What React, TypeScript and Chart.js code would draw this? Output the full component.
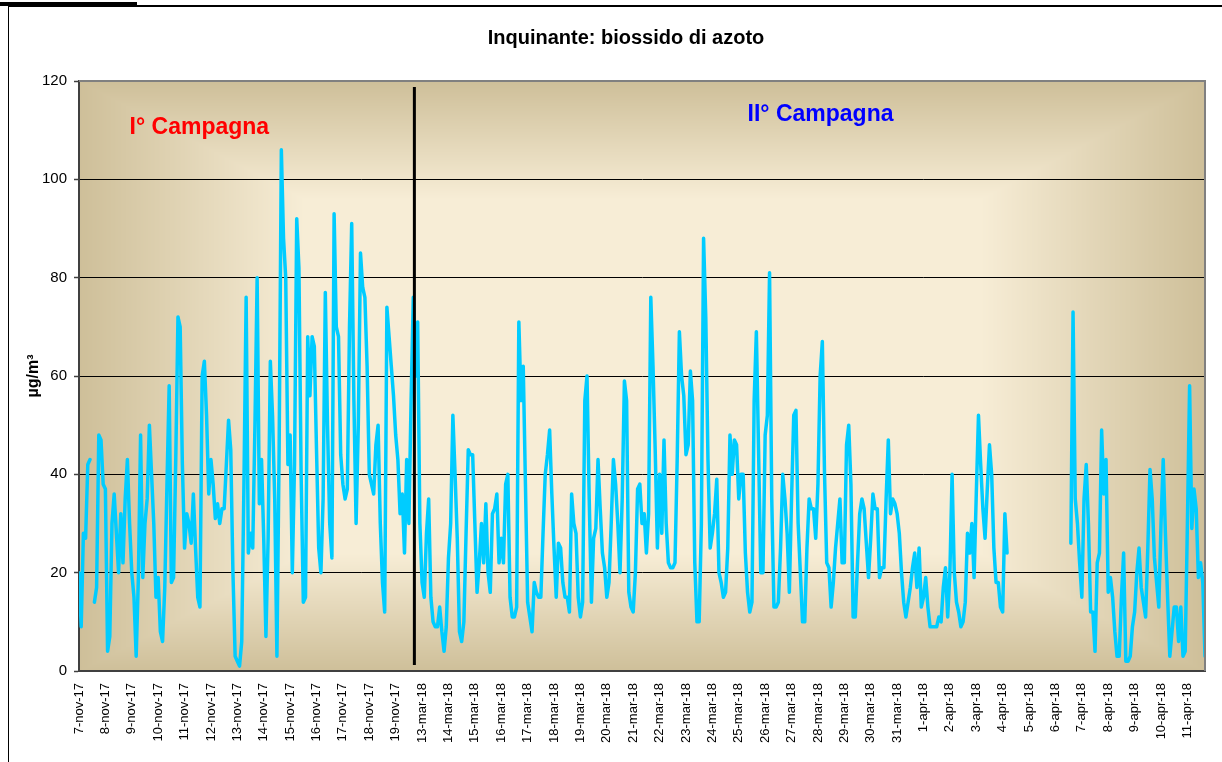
import React, { useEffect, useRef } from "react";
import { Chart, registerables } from "chart.js";

Chart.register(...registerables);

const chartTitle = "Inquinante: biossido di azoto";
const yAxisTitle = "µg/m³";
const campaignLabels = ["I° Campagna", "II° Campagna"];

const dayLabels = [
  "7-nov-17", "8-nov-17", "9-nov-17", "10-nov-17", "11-nov-17", "12-nov-17", "13-nov-17",
  "14-nov-17", "15-nov-17", "16-nov-17", "17-nov-17", "18-nov-17", "19-nov-17",
  "13-mar-18", "14-mar-18", "15-mar-18", "16-mar-18", "17-mar-18", "18-mar-18", "19-mar-18",
  "20-mar-18", "21-mar-18", "22-mar-18", "23-mar-18", "24-mar-18", "25-mar-18", "26-mar-18",
  "27-mar-18", "28-mar-18", "29-mar-18", "30-mar-18", "31-mar-18",
  "1-apr-18", "2-apr-18", "3-apr-18", "4-apr-18", "5-apr-18", "6-apr-18", "7-apr-18",
  "8-apr-18", "9-apr-18", "10-apr-18", "11-apr-18",
];

const yTicks = [0, 20, 40, 60, 80, 100, 120];
const hoursPerStep = 2;
const hoursPerLabel = 24;

// I° Campagna: NO2 (µg/m³), one value every 2 hours
const campaign1: (number | null)[] = [
  20, 9, 28, 27, 42, 43, null, 14, 17, 48, 47, 38,
  37, 4, 7, 30, 36, 28, 20, 32, 22, 35, 43, 30,
  20, 15, 3, 19, 48, 19, 30, 35, 50, 40, 30, 15,
  19, 8, 6, 17, 38, 58, 18, 19, 43, 72, 70, 42,
  25, 32, 30, 26, 36, 25, 15, 13, 60, 63, 52, 36,
  43, 38, 31, 34, 30, 33, 33, 42, 51, 45, 20, 3,
  2, 1, 6, 38, 76, 24, 28, 25, 50, 80, 34, 43,
  27, 7, 27, 63, 52, 35, 3, 45, 106, 88, 80, 42,
  48, 20, 42, 92, 82, 40, 14, 15, 68, 56, 68, 66,
  45, 25, 20, 35, 77, 50, 30, 23, 93, 70, 68, 44,
  38, 35, 37, 70, 91, 55, 30, 50, 85, 78, 76, 62,
  40, 38, 36, 46, 50, 30, 18, 12, 74, 68, 62, 56,
  48, 43, 32, 36, 24, 43, 30, 55, 76,
];

// II° Campagna: NO2 (µg/m³), one value every 2 hours
const campaign2: (number | null)[] = [
  60, 71, 30, 18, 15, 28, 35, 15, 10, 9, 9, 13,
  8, 4, 9, 23, 30, 52, 40, 27, 8, 6, 10, 28,
  45, 44, 44, 30, 16, 22, 30, 22, 34, 20, 16, 32,
  33, 36, 22, 27, 22, 38, 40, 15, 11, 11, 13, 71,
  55, 62, 38, 14, 11, 8, 18, 16, 15, 15, 28, 40,
  44, 49, 36, 25, 15, 26, 25, 18, 15, 15, 12, 36,
  30, 28, 15, 11, 14, 55, 60, 35, 14, 27, 29, 43,
  33, 24, 21, 15, 18, 30, 43, 38, 30, 20, 35, 59,
  55, 16, 13, 12, 20, 37, 38, 30, 32, 24, 32, 76,
  62, 45, 25, 40, 28, 47, 30, 22, 21, 21, 22, 43,
  69, 60, 56, 44, 46, 61, 55, 22, 10, 10, 30, 88,
  72, 43, 25, 28, 32, 39, 20, 18, 15, 16, 25, 48,
  40, 47, 46, 35, 40, 40, 24, 16, 12, 14, 55, 69,
  45, 20, 20, 48, 52, 81, 35, 13, 13, 14, 25, 40,
  35, 28, 16, 35, 52, 53, 30, 20, 10, 10, 25, 35,
  33, 33, 27, 38, 60, 67, 40, 22, 21, 13, 18, 25,
  30, 35, 22, 22, 46, 50, 38, 11, 11, 22, 32, 35,
  33, 26, 19, 27, 36, 33, 33, 19, 21, 21, 35, 47,
  32, 35, 34, 32, 28, 20, 14, 11, 14, 17, 21, 24,
  17, 25, 13, 15, 19, 13, 9, 9, 9, 9, 11, 10,
  17, 21, 11, 20, 40, 20, 14, 12, 9, 10, 14, 28,
  24, 30, 19, 36, 52, 42, 33, 27, 37, 46, 40, 25,
  18, 18, 13, 12, 32, 24, null, null, null, null, null, null,
  null, null, null, null, null, null, null, null, null, null, null, null,
  null, null, null, null, null, null, null, null, null, null, 26, 73,
  35, 30, 22, 15, 35, 42, 30, 12, 12, 4, 22, 24,
  49, 36, 43, 16, 19, 15, 8, 3, 3, 15, 24, 2,
  2, 3, 9, 12, 20, 25, 17, 14, 11, 25, 41, 35,
  23, 18, 13, 30, 43, 28, 15, 3, 8, 13, 13, 6,
  13, 3, 4, 30, 58, 29, 37, 33, 19, 22, 18, 3,
];

const FONT = "'Liberation Sans', Arial, Helvetica, sans-serif";

let bgCache: HTMLCanvasElement | null = null;

const backgroundPlugin = {
  id: "rectGradientBg",
  beforeDraw(chart: any) {
    const { ctx, chartArea: a } = chart;
    const w = Math.round(a.right - a.left);
    const h = Math.round(a.bottom - a.top);
    if (!bgCache || bgCache.width !== w || bgCache.height !== h) {
      const off = document.createElement("canvas");
      off.width = w;
      off.height = h;
      const octx = off.getContext("2d")!;
      const img = octx.createImageData(w, h);
      const light = [247, 237, 214];
      const dark = [206, 191, 153];
      for (let y = 0; y < h; y++) {
        const dy = Math.abs(y - h / 2) / (h / 2);
        for (let x = 0; x < w; x++) {
          const dx = Math.abs(x - w / 2) / (w / 2);
          const t = Math.max(dx, dy);
          let f = (t - 0.6) / 0.4;
          f = f < 0 ? 0 : f > 1 ? 1 : f;
          const i = (y * w + x) * 4;
          img.data[i] = light[0] + (dark[0] - light[0]) * f;
          img.data[i + 1] = light[1] + (dark[1] - light[1]) * f;
          img.data[i + 2] = light[2] + (dark[2] - light[2]) * f;
          img.data[i + 3] = 255;
        }
      }
      octx.putImageData(img, 0, 0);
      bgCache = off;
    }
    ctx.drawImage(bgCache, a.left, a.top);
  },
};

const overlayPlugin = {
  id: "campaignOverlay",
  afterDatasetsDraw(chart: any) {
    const { ctx, chartArea: a, scales } = chart;
    const xs = scales.x;
    const ys = scales.y;
    ctx.save();
    // plot frame top/right
    ctx.strokeStyle = "#808080";
    ctx.lineWidth = 2;
    ctx.beginPath();
    ctx.moveTo(a.left, a.top);
    ctx.lineTo(a.right, a.top);
    ctx.lineTo(a.right, a.bottom);
    ctx.stroke();
    // campaign separator
    const sepHour = campaign1.length * hoursPerStep - 1;
    const sx = xs.getPixelForValue(sepHour);
    ctx.strokeStyle = "#000000";
    ctx.lineWidth = 3;
    ctx.beginPath();
    ctx.moveTo(sx, ys.getPixelForValue(118.8));
    ctx.lineTo(sx, ys.getPixelForValue(1.2));
    ctx.stroke();
    // campaign labels
    ctx.font = `bold 23px ${FONT}`;
    ctx.textBaseline = "middle";
    ctx.textAlign = "left";
    ctx.fillStyle = "#FF0000";
    ctx.fillText(campaignLabels[0], xs.getPixelForValue(46), ys.getPixelForValue(110.6));
    ctx.fillStyle = "#0000FF";
    ctx.fillText(campaignLabels[1], xs.getPixelForValue(608), ys.getPixelForValue(113.1));
    // chart title
    ctx.font = `bold 20px ${FONT}`;
    ctx.fillStyle = "#000000";
    ctx.textAlign = "center";
    ctx.fillText(chartTitle, 617, 32);
    ctx.restore();
  },
};

export default function App() {
  const canvasRef = useRef<HTMLCanvasElement | null>(null);

  useEffect(() => {
    const values = [...campaign1, ...campaign2];
    const points = values.map((v, k) => ({ x: k * hoursPerStep, y: v }));
    const maxHour = (values.length - 1) * hoursPerStep;

    const chart = new Chart(canvasRef.current!, {
      type: "line",
      data: {
        datasets: [
          {
            label: "NO2",
            data: points as any,
            borderColor: "#00CCFF",
            borderWidth: 3.5,
            pointRadius: 0,
            tension: 0,
            borderJoinStyle: "round",
            borderCapStyle: "round",
            spanGaps: false,
          },
        ],
      },
      options: {
        animation: false,
        responsive: false,
        devicePixelRatio: 1,
        layout: { padding: { left: 0, right: 40, top: 75, bottom: 0 } },
        plugins: {
          legend: { display: false },
          tooltip: { enabled: false },
          title: { display: false },
        },
        scales: {
          x: {
            type: "linear",
            min: 0,
            max: maxHour,
            afterFit(scale: any) {
              scale.height = 91;
            },
            afterBuildTicks(axis: any) {
              axis.ticks = dayLabels.map((_, i) => ({ value: i * hoursPerLabel }));
            },
            grid: { display: false, drawTicks: false },
            border: { display: true, color: "#404040", width: 2 },
            ticks: {
              autoSkip: false,
              maxRotation: 90,
              minRotation: 90,
              padding: 12,
              color: "#000000",
              font: { family: FONT, size: 13 },
              callback: (value: any) => dayLabels[Math.round(Number(value) / hoursPerLabel)] ?? "",
            },
          },
          y: {
            type: "linear",
            min: yTicks[0],
            max: yTicks[yTicks.length - 1],
            afterFit(scale: any) {
              scale.width = 70;
            },
            afterBuildTicks(axis: any) {
              axis.ticks = yTicks.map((v) => ({ value: v }));
            },
            grid: {
              color: (c: any) => (c.tick && c.tick.value === 120 ? "rgba(0,0,0,0)" : "#000000"),
              lineWidth: 1,
              drawTicks: true,
              tickLength: 5,
              tickColor: "#404040",
              tickWidth: 1.5,
            },
            border: { display: true, color: "#404040", width: 2 },
            ticks: {
              padding: 7,
              color: "#000000",
              font: { family: FONT, size: 15 },
            },
            title: {
              display: true,
              text: yAxisTitle,
              color: "#000000",
              font: { family: FONT, size: 16, weight: "bold" },
              padding: { top: 15, bottom: 0 },
            },
          },
        },
      },
      plugins: [backgroundPlugin, overlayPlugin],
    });
    return () => chart.destroy();
  }, []);

  return (
    <div
      style={{
        position: "absolute",
        left: 0,
        top: 0,
        width: 1222,
        height: 762,
        overflow: "hidden",
        background: "#ffffff",
      }}
    >
      <div style={{ position: "absolute", left: 0, top: 2, width: 137, height: 4, background: "#000" }} />
      <div
        style={{
          position: "absolute",
          left: 8,
          top: 5,
          width: 1300,
          height: 800,
          borderLeft: "1px solid #000",
          borderTop: "2px solid #000",
        }}
      />
      <div style={{ position: "absolute", left: 9, top: 6, width: 1236, height: 756 }}>
        <canvas ref={canvasRef} width={1236} height={756} style={{ display: "block", width: 1236, height: 756 }} />
      </div>
    </div>
  );
}
